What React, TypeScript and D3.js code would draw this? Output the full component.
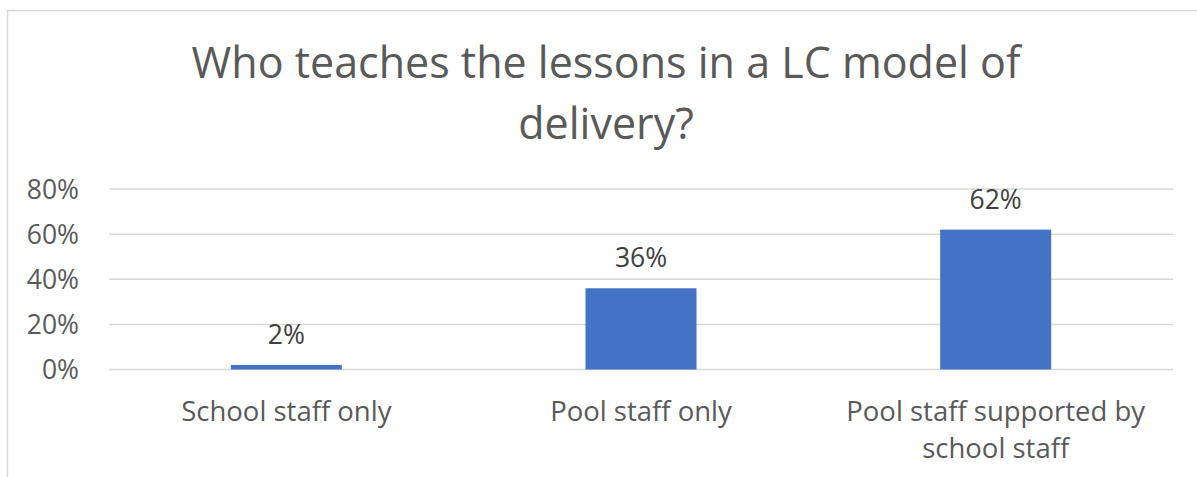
import React from "react";
import * as d3 from "d3";

const categories: string[][] = [
  ["School staff only"],
  ["Pool staff only"],
  ["Pool staff supported by", "school staff"],
];
const values: number[] = [0.02, 0.36, 0.62];
const yTicks: number[] = [0, 0.2, 0.4, 0.6, 0.8];
const titleLines: string[] = ["Who teaches the lessons in a LC model of", "delivery?"];

const W = 1197;
const H = 477;
const FONT = "'Open Sans', 'Noto Sans', sans-serif";

export default function App() {
  const plot = { left: 109, right: 1173, top: 189, bottom: 369.5 };
  const x = d3
    .scaleBand<number>()
    .domain(d3.range(values.length))
    .range([plot.left, plot.right])
    .paddingInner(0.687)
    .paddingOuter(0.3435);
  const y = d3.scaleLinear().domain([0, 0.8]).range([plot.bottom, plot.top]);
  const fmt = d3.format(".0%");

  return (
    <div style={{ position: "absolute", left: 0, top: 0 }}>
      <svg width={W} height={H} style={{ display: "block", background: "#fff" }}>
        <rect x={7.5} y={10.5} width={W + 10} height={H + 10} fill="#fff" stroke="#D9D9D9" strokeWidth={1.5} />
        {titleLines.map((t, i) => (
          <text
            key={i}
            x={606}
            y={78 + i * 61}
            textAnchor="middle"
            fontFamily={FONT}
            fontSize={43}
            fill="#595959"
          >
            {t}
          </text>
        ))}
        {yTicks.map((t) => (
          <g key={t}>
            <line x1={plot.left} x2={plot.right} y1={y(t)} y2={y(t)} stroke="#D9D9D9" strokeWidth={1.5} />
            <text
              x={79}
              y={y(t)}
              dy="0.36em"
              textAnchor="end"
              fontFamily={FONT}
              fontSize={26.5}
              fill="#595959"
            >
              {fmt(t)}
            </text>
          </g>
        ))}
        {values.map((v, i) => (
          <g key={i}>
            <rect
              x={x(i)!}
              y={y(v)}
              width={x.bandwidth()}
              height={y(0) - y(v)}
              fill="#4472C4"
            />
            <text
              x={x(i)! + x.bandwidth() / 2}
              y={y(v) - 21}
              textAnchor="middle"
              fontFamily={FONT}
              fontSize={26.5}
              fill="#404040"
            >
              {fmt(v)}
            </text>
          </g>
        ))}
        {categories.map((lines, i) =>
          lines.map((l, j) => (
            <text
              key={i + "-" + j}
              x={x(i)! + x.bandwidth() / 2}
              y={421 + j * 37}
              textAnchor="middle"
              fontFamily={FONT}
              fontSize={27.5}
              fill="#595959"
            >
              {l}
            </text>
          ))
        )}
      </svg>
    </div>
  );
}
